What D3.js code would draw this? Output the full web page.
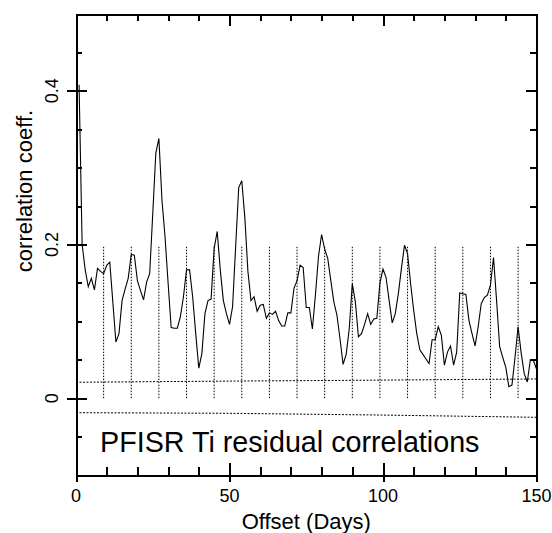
<html>
<meta http-equiv="content-type" content="text/html; charset=UTF8">
<style>
  body {margin:0; background:#fff; overflow:hidden;}
  text {font-family: "Liberation Sans", Arial, Helvetica, sans-serif; fill:#000;}
</style>
<body>
<svg id="svg1" width="552" height="533" style="display:block"></svg>

<script src="https://cdn.jsdelivr.net/npm/d3@7/dist/d3.min.js"></script>
<script>
// correlation coefficient per offset day, starting at day 1
var firstDay=1;
var coeff=[
 0.408,0.200,0.167,0.145,0.156,0.141,0.169,0.165,0.162,0.173,
 0.177,0.125,0.073,0.084,0.127,0.142,0.156,0.187,0.186,0.153,
 0.140,0.128,0.151,0.162,0.240,0.319,0.338,0.258,0.210,0.150,
 0.092,0.091,0.091,0.106,0.132,0.167,0.167,0.132,0.084,0.039,
 0.058,0.110,0.127,0.129,0.195,0.217,0.167,0.127,0.110,0.096,
 0.119,0.197,0.274,0.283,0.235,0.165,0.127,0.132,0.113,0.121,
 0.122,0.104,0.111,0.109,0.113,0.101,0.094,0.094,0.111,0.111,
 0.143,0.153,0.173,0.170,0.118,0.118,0.090,0.135,0.185,0.213,
 0.194,0.182,0.153,0.125,0.108,0.077,0.044,0.057,0.090,0.149,
 0.125,0.080,0.084,0.096,0.110,0.096,0.103,0.104,0.150,0.168,
 0.157,0.127,0.098,0.110,0.136,0.169,0.199,0.188,0.149,0.114,
 0.084,0.063,0.057,0.051,0.045,0.076,0.076,0.093,0.082,0.043,
 0.060,0.068,0.043,0.060,0.137,0.136,0.135,0.101,0.084,0.068,
 0.093,0.123,0.131,0.134,0.147,0.183,0.127,0.067,0.053,0.040,
 0.015,0.017,0.053,0.093,0.059,0.032,0.021,0.050,0.049,0.038
];
// dotted markers every 9 days
var markDays=[9,18,27,36,45,54,63,72,81,90,99,108,117,126,135,144];
var markTop=0.197;
// dotted significance bands
var bandDays=[0,50,100,150];
var bandUpper=[0.0207,0.0222,0.0235,0.0250];
var bandLower=[-0.0189,-0.0197,-0.0220,-0.0249];

var xMajor=[0,50,100,150];
var xMinor=[10,20,30,40,60,70,80,90,110,120,130,140];
var yMajor=[0,0.2,0.4];
var yMinor=[-0.05,0.05,0.1,0.15,0.25,0.3,0.35,0.45];

var pLeft=76,pRight=536.5,pTop=14,pBottom=475;

var svg=d3.select("#svg1");
var x=d3.scaleLinear().domain([0,150]).range([pLeft,pRight]);
var y=d3.scaleLinear().domain([-0.1,0.5]).range([pBottom,pTop]);

var fmt=function(d){return d==0?"0":d3.format(".1f")(d);};

var styleAxis=function(g){
	g.selectAll("path,line").attr("stroke","#000").attr("stroke-width",2).attr("shape-rendering","crispEdges");
	g.selectAll("text").remove();
};

// bottom axis
svg.append("g").attr("transform","translate(0,"+pBottom+")")
	.call(d3.axisBottom(x).tickValues(xMinor).tickSizeInner(-8).tickSizeOuter(0)).call(styleAxis);
svg.append("g").attr("transform","translate(0,"+pBottom+")")
	.call(d3.axisBottom(x).tickValues(xMajor).tickSizeInner(-12).tickSizeOuter(0)).call(styleAxis);
svg.append("g").attr("transform","translate(0,"+pBottom+")")
	.call(d3.axisBottom(x).tickValues(xMajor).tickSizeInner(7).tickSizeOuter(0)).call(styleAxis);
// top axis
svg.append("g").attr("transform","translate(0,"+pTop+")")
	.call(d3.axisTop(x).tickValues(xMinor).tickSizeInner(-7).tickSizeOuter(0)).call(styleAxis);
svg.append("g").attr("transform","translate(0,"+pTop+")")
	.call(d3.axisTop(x).tickValues(xMajor).tickSizeInner(-12).tickSizeOuter(0)).call(styleAxis);
// left axis
svg.append("g").attr("transform","translate("+pLeft+",0)")
	.call(d3.axisLeft(y).tickValues(yMinor).tickSizeInner(-6).tickSizeOuter(0)).call(styleAxis);
svg.append("g").attr("transform","translate("+pLeft+",0)")
	.call(d3.axisLeft(y).tickValues(yMajor).tickSizeInner(-11).tickSizeOuter(0)).call(styleAxis);
svg.append("g").attr("transform","translate("+pLeft+",0)")
	.call(d3.axisLeft(y).tickValues(yMajor).tickSizeInner(9).tickSizeOuter(0)).call(styleAxis);
// right axis
svg.append("g").attr("transform","translate("+pRight+",0)")
	.call(d3.axisRight(y).tickValues(yMinor).tickSizeInner(-7).tickSizeOuter(0)).call(styleAxis);
svg.append("g").attr("transform","translate("+pRight+",0)")
	.call(d3.axisRight(y).tickValues(yMajor).tickSizeInner(-11).tickSizeOuter(0)).call(styleAxis);

// tick labels
svg.selectAll(".xlab").data(xMajor).enter().append("text")
	.attr("x",function(d){return x(d)}).attr("y",502)
	.attr("text-anchor","middle").attr("font-size",18)
	.text(function(d){return d});
svg.selectAll(".ylab").data(yMajor).enter().append("text")
	.attr("transform",function(d){return "translate(58,"+y(d)+") rotate(-90)"})
	.attr("text-anchor","middle").attr("font-size",18)
	.text(fmt);

// axis titles
svg.append("text").attr("x",(pLeft+pRight)/2).attr("y",529)
	.attr("text-anchor","middle").attr("font-size",22).text("Offset (Days)");
svg.append("text").attr("transform","translate(32,191) rotate(-90)")
	.attr("text-anchor","middle").attr("font-size",22).text("correlation coeff.");

// dotted markers
svg.selectAll(".mark").data(markDays).enter().append("line")
	.attr("x1",function(d){return x(d)}).attr("x2",function(d){return x(d)})
	.attr("y1",y(0)).attr("y2",y(markTop))
	.attr("stroke","#000").attr("stroke-width",1).attr("stroke-dasharray","1.5,1.5");

var bandLine=function(vals){
	return d3.line().x(function(d,i){return x(bandDays[i])}).y(function(d){return y(d)})(vals);
};
svg.append("path").attr("d",bandLine(bandUpper)).attr("fill","none")
	.attr("stroke","#000").attr("stroke-width",1).attr("stroke-dasharray","2,1.5");
svg.append("path").attr("d",bandLine(bandLower)).attr("fill","none")
	.attr("stroke","#000").attr("stroke-width",1).attr("stroke-dasharray","2,1.5");

// correlation line
var line=d3.line().x(function(d,i){return x(firstDay+i)}).y(function(d){return y(d)});
svg.append("path").attr("d",line(coeff)).attr("fill","none")
	.attr("stroke","#000").attr("stroke-width",1.1).attr("stroke-linejoin","miter");

svg.append("text").attr("x",100).attr("y",452).attr("font-size",28.7)
	.text("PFISR Ti residual correlations");
</script>
</html>
